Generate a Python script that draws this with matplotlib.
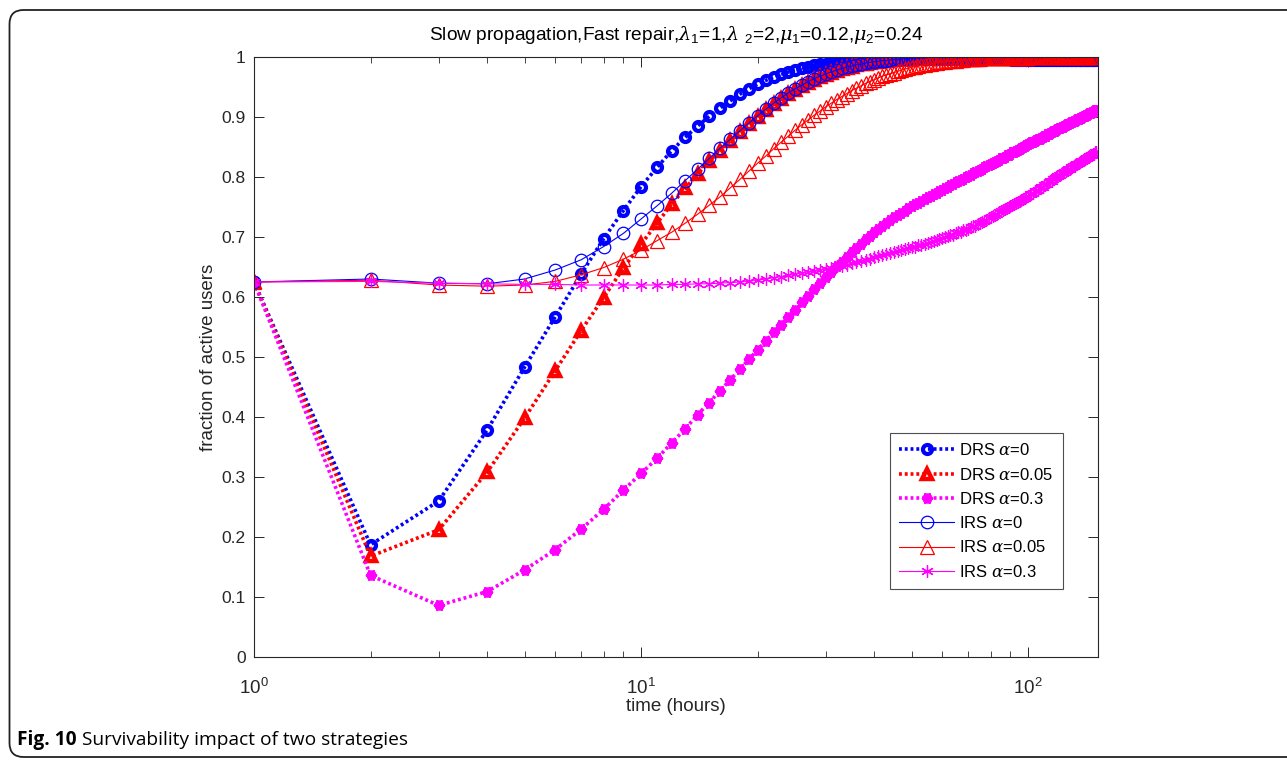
import matplotlib
matplotlib.use("Agg")
import matplotlib.pyplot as plt
from matplotlib.patches import FancyBboxPatch
from matplotlib.transforms import IdentityTransform

plt.rcParams['font.family'] = ['Liberation Sans', 'DejaVu Sans']
plt.rcParams['mathtext.fontset'] = 'custom'
plt.rcParams['mathtext.rm'] = 'Liberation Sans'
plt.rcParams['mathtext.it'] = 'DejaVu Serif:italic'
plt.rcParams['mathtext.bf'] = 'Liberation Sans:bold'

# time axis (hours)
hours = list(range(1, 151))

drs_a0 = [
    0.625, 0.187, 0.260, 0.378, 0.483, 0.567, 0.638, 0.697, 0.744, 0.784,
    0.816, 0.844, 0.866, 0.885, 0.901, 0.915, 0.927, 0.938, 0.947, 0.955,
    0.961, 0.967, 0.971, 0.975, 0.979, 0.982, 0.984, 0.986, 0.988, 0.989,
    0.990, 0.991, 0.992, 0.993, 0.994, 0.994, 0.995, 0.995, 0.996, 0.996,
    0.996, 0.997, 0.997, 0.997, 0.997, 0.997, 0.997, 0.997, 0.997, 0.997,
    0.997, 0.997, 0.997, 0.997, 0.997, 0.997, 0.997, 0.997, 0.997, 0.997,
    0.996, 0.996, 0.996, 0.996, 0.996, 0.996, 0.996, 0.996, 0.996, 0.996,
    0.996, 0.996, 0.996, 0.996, 0.996, 0.996, 0.996, 0.996, 0.996, 0.996,
    0.996, 0.996, 0.996, 0.996, 0.996, 0.996, 0.996, 0.996, 0.996, 0.996,
    0.995, 0.995, 0.995, 0.995, 0.995, 0.995, 0.995, 0.995, 0.995, 0.995,
    0.995, 0.995, 0.995, 0.995, 0.995, 0.995, 0.995, 0.995, 0.995, 0.995,
    0.995, 0.995, 0.995, 0.995, 0.995, 0.995, 0.995, 0.995, 0.995, 0.995,
    0.995, 0.995, 0.995, 0.995, 0.995, 0.995, 0.995, 0.995, 0.995, 0.995,
    0.995, 0.995, 0.995, 0.995, 0.995, 0.995, 0.995, 0.995, 0.995, 0.995,
    0.995, 0.995, 0.995, 0.995, 0.995, 0.995, 0.995, 0.995, 0.995, 0.995,
]

drs_a005 = [
    0.625, 0.168, 0.212, 0.308, 0.398, 0.477, 0.544, 0.599, 0.648, 0.688,
    0.723, 0.755, 0.781, 0.805, 0.826, 0.844, 0.860, 0.875, 0.888, 0.900,
    0.911, 0.921, 0.930, 0.938, 0.945, 0.951, 0.957, 0.962, 0.966, 0.970,
    0.974, 0.977, 0.980, 0.982, 0.984, 0.986, 0.988, 0.989, 0.990, 0.991,
    0.992, 0.993, 0.994, 0.995, 0.995, 0.996, 0.996, 0.997, 0.997, 0.997,
    0.998, 0.998, 0.998, 0.998, 0.998, 0.999, 0.999, 0.999, 0.999, 0.999,
    0.999, 0.999, 0.999, 0.999, 0.999, 1.000, 1.000, 1.000, 1.000, 1.000,
    1.000, 1.000, 1.000, 1.000, 1.000, 1.000, 1.000, 1.000, 1.000, 1.000,
    1.000, 1.000, 1.000, 1.000, 1.000, 1.000, 1.000, 1.000, 1.000, 1.000,
    1.000, 1.000, 1.000, 1.000, 1.000, 1.000, 1.000, 1.000, 1.000, 1.000,
    1.000, 1.000, 1.000, 1.000, 1.000, 1.000, 1.000, 1.000, 1.000, 1.000,
    1.000, 1.000, 1.000, 1.000, 1.000, 1.000, 1.000, 1.000, 1.000, 1.000,
    1.000, 1.000, 1.000, 1.000, 1.000, 1.000, 1.000, 1.000, 1.000, 1.000,
    1.000, 1.000, 1.000, 1.000, 1.000, 1.000, 1.000, 1.000, 1.000, 1.000,
    1.000, 1.000, 1.000, 1.000, 1.000, 1.000, 1.000, 1.000, 1.000, 1.000,
]

drs_a03 = [
    0.625, 0.136, 0.086, 0.109, 0.145, 0.179, 0.213, 0.246, 0.278, 0.306,
    0.331, 0.357, 0.380, 0.404, 0.424, 0.444, 0.462, 0.480, 0.496, 0.512,
    0.527, 0.541, 0.554, 0.567, 0.579, 0.591, 0.602, 0.613, 0.623, 0.633,
    0.642, 0.651, 0.659, 0.667, 0.675, 0.682, 0.689, 0.696, 0.702, 0.708,
    0.713, 0.718, 0.723, 0.728, 0.733, 0.736, 0.740, 0.744, 0.748, 0.752,
    0.755, 0.757, 0.760, 0.763, 0.766, 0.768, 0.771, 0.774, 0.776, 0.779,
    0.781, 0.784, 0.786, 0.788, 0.791, 0.793, 0.795, 0.797, 0.800, 0.802,
    0.804, 0.806, 0.808, 0.810, 0.812, 0.814, 0.816, 0.818, 0.820, 0.822,
    0.824, 0.825, 0.827, 0.829, 0.831, 0.832, 0.834, 0.836, 0.837, 0.839,
    0.841, 0.842, 0.844, 0.845, 0.847, 0.849, 0.850, 0.852, 0.853, 0.855,
    0.856, 0.858, 0.859, 0.860, 0.862, 0.863, 0.864, 0.865, 0.867, 0.868,
    0.869, 0.871, 0.872, 0.873, 0.875, 0.876, 0.877, 0.878, 0.880, 0.881,
    0.882, 0.883, 0.884, 0.885, 0.887, 0.888, 0.889, 0.890, 0.891, 0.892,
    0.893, 0.894, 0.895, 0.896, 0.897, 0.898, 0.899, 0.900, 0.901, 0.902,
    0.903, 0.904, 0.905, 0.906, 0.907, 0.908, 0.909, 0.910, 0.911, 0.912,
]

irs_a0 = [
    0.625, 0.630, 0.623, 0.622, 0.630, 0.645, 0.662, 0.684, 0.706, 0.730,
    0.752, 0.773, 0.794, 0.813, 0.831, 0.848, 0.863, 0.877, 0.890, 0.902,
    0.913, 0.923, 0.932, 0.940, 0.947, 0.953, 0.959, 0.964, 0.968, 0.972,
    0.975, 0.978, 0.981, 0.983, 0.985, 0.987, 0.988, 0.990, 0.991, 0.992,
    0.993, 0.994, 0.994, 0.995, 0.996, 0.996, 0.997, 0.997, 0.997, 0.998,
    0.998, 0.998, 0.998, 0.998, 0.998, 0.999, 0.999, 0.999, 0.999, 0.999,
    0.999, 0.999, 0.999, 0.999, 0.999, 1.000, 1.000, 1.000, 1.000, 1.000,
    1.000, 1.000, 1.000, 1.000, 1.000, 1.000, 1.000, 1.000, 1.000, 1.000,
    1.000, 1.000, 1.000, 1.000, 1.000, 1.000, 1.000, 1.000, 1.000, 1.000,
    1.000, 1.000, 1.000, 1.000, 1.000, 1.000, 1.000, 1.000, 1.000, 1.000,
    1.000, 1.000, 1.000, 1.000, 1.000, 1.000, 1.000, 1.000, 1.000, 1.000,
    1.000, 1.000, 1.000, 1.000, 1.000, 1.000, 1.000, 1.000, 1.000, 1.000,
    1.000, 1.000, 1.000, 1.000, 1.000, 1.000, 1.000, 1.000, 1.000, 1.000,
    1.000, 1.000, 1.000, 1.000, 1.000, 1.000, 1.000, 1.000, 1.000, 1.000,
    1.000, 1.000, 1.000, 1.000, 1.000, 1.000, 1.000, 1.000, 1.000, 1.000,
]

irs_a005 = [
    0.625, 0.628, 0.620, 0.618, 0.620, 0.626, 0.637, 0.649, 0.663, 0.678,
    0.694, 0.708, 0.723, 0.738, 0.753, 0.767, 0.782, 0.796, 0.810, 0.823,
    0.835, 0.847, 0.858, 0.868, 0.878, 0.887, 0.895, 0.903, 0.910, 0.917,
    0.923, 0.929, 0.934, 0.939, 0.944, 0.948, 0.952, 0.956, 0.959, 0.962,
    0.965, 0.968, 0.970, 0.972, 0.974, 0.976, 0.978, 0.980, 0.981, 0.983,
    0.984, 0.985, 0.986, 0.987, 0.988, 0.989, 0.990, 0.990, 0.991, 0.992,
    0.992, 0.993, 0.993, 0.994, 0.994, 0.995, 0.995, 0.995, 0.996, 0.996,
    0.997, 0.997, 0.997, 0.997, 0.997, 0.998, 0.998, 0.998, 0.998, 0.998,
    0.998, 0.998, 0.998, 0.998, 0.998, 0.999, 0.999, 0.999, 0.999, 0.999,
    0.999, 0.999, 0.999, 0.999, 0.999, 0.999, 0.999, 0.999, 0.999, 0.999,
    1.000, 1.000, 1.000, 1.000, 1.000, 1.000, 1.000, 1.000, 1.000, 1.000,
    1.000, 1.000, 1.000, 1.000, 1.000, 1.000, 1.000, 1.000, 1.000, 1.000,
    1.000, 1.000, 1.000, 1.000, 1.000, 1.000, 1.000, 1.000, 1.000, 1.000,
    1.000, 1.000, 1.000, 1.000, 1.000, 1.000, 1.000, 1.000, 1.000, 1.000,
    1.000, 1.000, 1.000, 1.000, 1.000, 1.000, 1.000, 1.000, 1.000, 1.000,
]

irs_a03 = [
    0.625, 0.626, 0.623, 0.622, 0.621, 0.621, 0.620, 0.620, 0.620, 0.620,
    0.620, 0.621, 0.621, 0.622, 0.622, 0.623, 0.624, 0.625, 0.626, 0.628,
    0.630, 0.632, 0.634, 0.636, 0.638, 0.640, 0.642, 0.643, 0.645, 0.647,
    0.649, 0.651, 0.652, 0.654, 0.656, 0.658, 0.660, 0.662, 0.664, 0.666,
    0.668, 0.670, 0.671, 0.673, 0.675, 0.677, 0.678, 0.680, 0.681, 0.683,
    0.684, 0.686, 0.687, 0.689, 0.690, 0.692, 0.693, 0.695, 0.696, 0.698,
    0.700, 0.701, 0.703, 0.704, 0.706, 0.708, 0.709, 0.711, 0.712, 0.714,
    0.716, 0.718, 0.719, 0.721, 0.723, 0.725, 0.727, 0.729, 0.731, 0.733,
    0.735, 0.737, 0.739, 0.741, 0.743, 0.745, 0.747, 0.748, 0.750, 0.752,
    0.754, 0.755, 0.757, 0.758, 0.760, 0.762, 0.764, 0.765, 0.767, 0.769,
    0.771, 0.772, 0.774, 0.776, 0.777, 0.779, 0.781, 0.783, 0.784, 0.786,
    0.788, 0.789, 0.791, 0.793, 0.794, 0.796, 0.798, 0.800, 0.801, 0.803,
    0.804, 0.806, 0.807, 0.809, 0.810, 0.811, 0.813, 0.814, 0.816, 0.817,
    0.818, 0.820, 0.821, 0.822, 0.824, 0.825, 0.826, 0.827, 0.829, 0.830,
    0.831, 0.832, 0.834, 0.835, 0.836, 0.837, 0.838, 0.839, 0.841, 0.842,
]

series_labels = [r'DRS $\alpha$=0', r'DRS $\alpha$=0.05', r'DRS $\alpha$=0.3',
                 r'IRS $\alpha$=0', r'IRS $\alpha$=0.05', r'IRS $\alpha$=0.3']
y_ticks = [0, 0.1, 0.2, 0.3, 0.4, 0.5, 0.6, 0.7, 0.8, 0.9, 1]
y_tick_labels = ['0', '0.1', '0.2', '0.3', '0.4', '0.5', '0.6', '0.7', '0.8', '0.9', '1']
x_ticks = [1, 10, 100]
x_tick_labels = [r'$10^{0}$', r'$10^{1}$', r'$10^{2}$']

W, H = 1287, 760
fig = plt.figure(figsize=(W / 100, H / 100), dpi=100)
fig.patch.set_facecolor('white')

# rounded figure frame
frame = FancyBboxPatch((9.5, 3), 1320, 747,
                       boxstyle="round,pad=0,rounding_size=14",
                       transform=IdentityTransform(),
                       facecolor='none', edgecolor='#222222', linewidth=1.3)
fig.add_artist(frame)

ax = fig.add_axes([254 / W, 1 - 657 / H, (1098 - 254) / W, (657 - 57) / H])

dot = (0, (0.8, 0.8))
blue, red, mag = (0, 0, 1), (1, 0, 0), (1, 0, 1)
star = (6, 2, 0)

ax.plot(hours, drs_a0, linestyle=dot, color=blue, lw=2.6, marker='o',
        ms=6.5, mew=3.0, mfc='none', mec=blue, label=series_labels[0])
ax.plot(hours, drs_a005, linestyle=dot, color=red, lw=2.6, marker='^',
        ms=7.5, mew=3.2, mfc='none', mec=red, label=series_labels[1])
ax.plot(hours, drs_a03, linestyle=dot, color=mag, lw=2.6, marker=star,
        ms=7.0, mew=4.5, mfc=mag, mec=mag, label=series_labels[2])
ax.plot(hours, irs_a0, linestyle='-', color=blue, lw=0.8, marker='o',
        ms=9, mew=0.9, mfc='none', mec=blue, label=series_labels[3])
ax.plot(hours, irs_a005, linestyle='-', color=red, lw=0.8, marker='^',
        ms=9.5, mew=0.9, mfc='none', mec=red, label=series_labels[4])
ax.plot(hours, irs_a03, linestyle='-', color=mag, lw=0.8, marker=star,
        ms=9, mew=0.9, mfc=mag, mec=mag, label=series_labels[5])

ax.set_xscale('log')
ax.set_xlim(1, 151.5)
ax.set_ylim(0, 1)
ax.set_xticks(x_ticks)
ax.set_xticklabels(x_tick_labels)
ax.set_yticks(y_ticks)
ax.set_yticklabels(y_tick_labels)

axis_col = '#262626'
for s in ax.spines.values():
    s.set_color(axis_col)
    s.set_linewidth(0.8)
ax.tick_params(which='both', direction='in', top=True, right=True,
               colors=axis_col, labelsize=12.5)
ax.tick_params(which='major', length=7, width=0.7)
ax.tick_params(which='minor', length=4, width=0.6)
ax.tick_params(axis='y', which='major', pad=6)
ax.tick_params(axis='x', which='major', pad=15, labelsize=13.5)

ax.set_xlabel('time (hours)', fontsize=13.5, color=axis_col, labelpad=0)
ax.set_ylabel('fraction of active users', fontsize=13.5, color=axis_col, labelpad=3)
ax.set_title(r'Slow propagation,Fast repair,$\lambda_1$=1,$\lambda\ _2$=2,$\mu_1$=0.12,$\mu_2$=0.24',
             fontsize=13.8, color='black', pad=12)

leg = ax.legend(loc='upper left', bbox_to_anchor=(890 / W, 1 - 433 / H),
                bbox_transform=fig.transFigure, fontsize=12, frameon=True,
                fancybox=False, handlelength=3.3, handletextpad=0.3,
                labelspacing=0.5, borderpad=0.55, borderaxespad=0)
leg.get_frame().set_edgecolor('#222222')
leg.get_frame().set_linewidth(0.8)

# figure caption: bold figure number followed by the description
cap_y = (H - 740) / H
cap_font = ['Open Sans', 'DejaVu Sans']
num = fig.text(17 / W, cap_y, 'Fig. 10', fontsize=13.8, fontweight='bold',
               family=cap_font, va='center', ha='left')
renderer = fig.canvas.get_renderer()
num_box = num.get_window_extent(renderer=renderer)
fig.text((num_box.x1 + 5) / W, cap_y, 'Survivability impact of two strategies',
         fontsize=13.8, family=cap_font, va='center', ha='left')

fig.savefig('out.png', dpi=100)
